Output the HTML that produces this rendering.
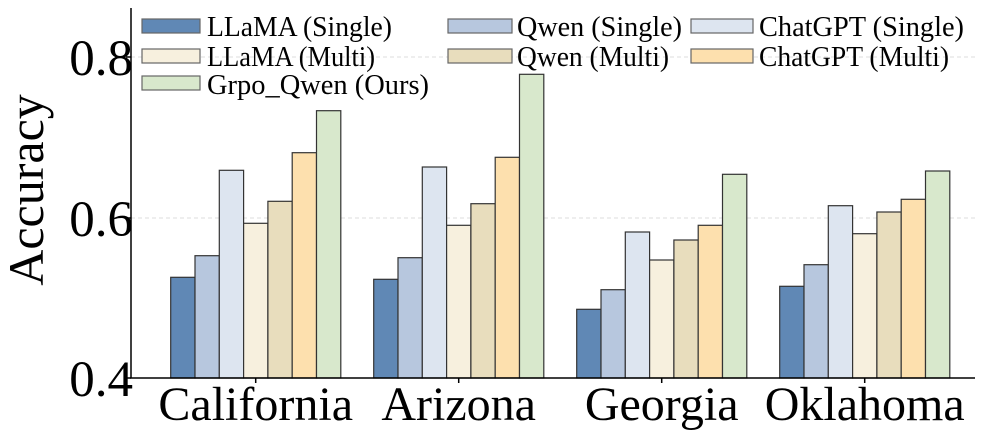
<!DOCTYPE html>
<html><head><meta charset="utf-8"><style>
html,body{margin:0;padding:0;background:#fff;}
svg{display:block;font-family:"Liberation Serif",serif;}
</style></head><body>
<svg width="996" height="436" viewBox="0 0 996 436" xmlns="http://www.w3.org/2000/svg">
<g stroke="#ddd" stroke-width="1" stroke-dasharray="4,3">
<line x1="131" y1="57" x2="975" y2="57"/>
<line x1="131" y1="218" x2="975" y2="218"/>
</g>
<g stroke="#333" stroke-width="1.2">
<rect x="170.7" y="277.3" width="24.3" height="100.7" fill="#6088b5"/>
<rect x="195" y="255.7" width="24.3" height="122.3" fill="#b7c7de"/>
<rect x="219.3" y="170.3" width="24.3" height="207.7" fill="#dde5f0"/>
<rect x="243.6" y="223.3" width="24.3" height="154.7" fill="#f7f0de"/>
<rect x="267.9" y="201.3" width="24.3" height="176.7" fill="#e8ddbd"/>
<rect x="292.2" y="152.7" width="24.3" height="225.3" fill="#fde0ae"/>
<rect x="316.5" y="110.7" width="24.3" height="267.3" fill="#d8e8cc"/>
<rect x="373.7" y="279.3" width="24.3" height="98.7" fill="#6088b5"/>
<rect x="398" y="257.7" width="24.3" height="120.3" fill="#b7c7de"/>
<rect x="422.3" y="167" width="24.3" height="211" fill="#dde5f0"/>
<rect x="446.6" y="225.3" width="24.3" height="152.7" fill="#f7f0de"/>
<rect x="470.9" y="203.7" width="24.3" height="174.3" fill="#e8ddbd"/>
<rect x="495.2" y="157.3" width="24.3" height="220.7" fill="#fde0ae"/>
<rect x="519.5" y="74.3" width="24.3" height="303.7" fill="#d8e8cc"/>
<rect x="576.7" y="309.3" width="24.3" height="68.7" fill="#6088b5"/>
<rect x="601" y="289.7" width="24.3" height="88.3" fill="#b7c7de"/>
<rect x="625.3" y="232" width="24.3" height="146" fill="#dde5f0"/>
<rect x="649.6" y="260" width="24.3" height="118" fill="#f7f0de"/>
<rect x="673.9" y="240" width="24.3" height="138" fill="#e8ddbd"/>
<rect x="698.2" y="225.3" width="24.3" height="152.7" fill="#fde0ae"/>
<rect x="722.5" y="174.3" width="24.3" height="203.7" fill="#d8e8cc"/>
<rect x="779.7" y="286.3" width="24.3" height="91.7" fill="#6088b5"/>
<rect x="804" y="264.7" width="24.3" height="113.3" fill="#b7c7de"/>
<rect x="828.3" y="205.7" width="24.3" height="172.3" fill="#dde5f0"/>
<rect x="852.6" y="233.7" width="24.3" height="144.3" fill="#f7f0de"/>
<rect x="876.9" y="212" width="24.3" height="166" fill="#e8ddbd"/>
<rect x="901.2" y="199.3" width="24.3" height="178.7" fill="#fde0ae"/>
<rect x="925.5" y="171" width="24.3" height="207" fill="#d8e8cc"/>
</g>
<g stroke="#000" stroke-width="1.5">
<line x1="131" y1="8" x2="131" y2="378.5"/>
<line x1="130" y1="378" x2="975" y2="378"/>
<line x1="126" y1="57" x2="131" y2="57"/>
<line x1="126" y1="218" x2="131" y2="218"/>
<line x1="126" y1="378" x2="131" y2="378"/>
<line x1="255.7" y1="378" x2="255.7" y2="383"/>
<line x1="458.7" y1="378" x2="458.7" y2="383"/>
<line x1="661.7" y1="378" x2="661.7" y2="383"/>
<line x1="864.7" y1="378" x2="864.7" y2="383"/>
</g>
<g font-size="51" text-anchor="end" fill="#000">
<text x="133" y="75">0.8</text>
<text x="133" y="236">0.6</text>
<text x="133" y="396">0.4</text>
</g>
<text transform="translate(43,190) rotate(-90)" font-size="50" text-anchor="middle">Accuracy</text>
<g font-size="48" text-anchor="middle">
<text x="255.7" y="420">California</text>
<text x="458.7" y="420">Arizona</text>
<text x="661.7" y="420">Georgia</text>
<text x="864.7" y="420">Oklahoma</text>
</g>
<g stroke="#666" stroke-width="1.2">
<rect x="142" y="19" width="58" height="14" fill="#6088b5"/>
<rect x="448" y="19" width="64" height="14" fill="#b7c7de"/>
<rect x="691" y="19" width="62" height="14" fill="#dde5f0"/>
<rect x="142" y="49" width="58" height="14" fill="#f7f0de"/>
<rect x="448" y="49" width="64" height="14" fill="#e8ddbd"/>
<rect x="691" y="49" width="62" height="14" fill="#fde0ae"/>
<rect x="142" y="76" width="58" height="14" fill="#d8e8cc"/>
</g>
<g font-size="29" fill="#000">
<text x="207" y="36" textLength="185" lengthAdjust="spacingAndGlyphs">LLaMA (Single)</text>
<text x="517" y="36" textLength="165" lengthAdjust="spacingAndGlyphs">Qwen (Single)</text>
<text x="759" y="36" textLength="205" lengthAdjust="spacingAndGlyphs">ChatGPT (Single)</text>
<text x="207" y="66" textLength="168" lengthAdjust="spacingAndGlyphs">LLaMA (Multi)</text>
<text x="517" y="66" textLength="152" lengthAdjust="spacingAndGlyphs">Qwen (Multi)</text>
<text x="759" y="66" textLength="190" lengthAdjust="spacingAndGlyphs">ChatGPT (Multi)</text>
<text x="207" y="94" textLength="222" lengthAdjust="spacingAndGlyphs">Grpo_Qwen (Ours)</text>
</g>
</svg>
</body></html>
